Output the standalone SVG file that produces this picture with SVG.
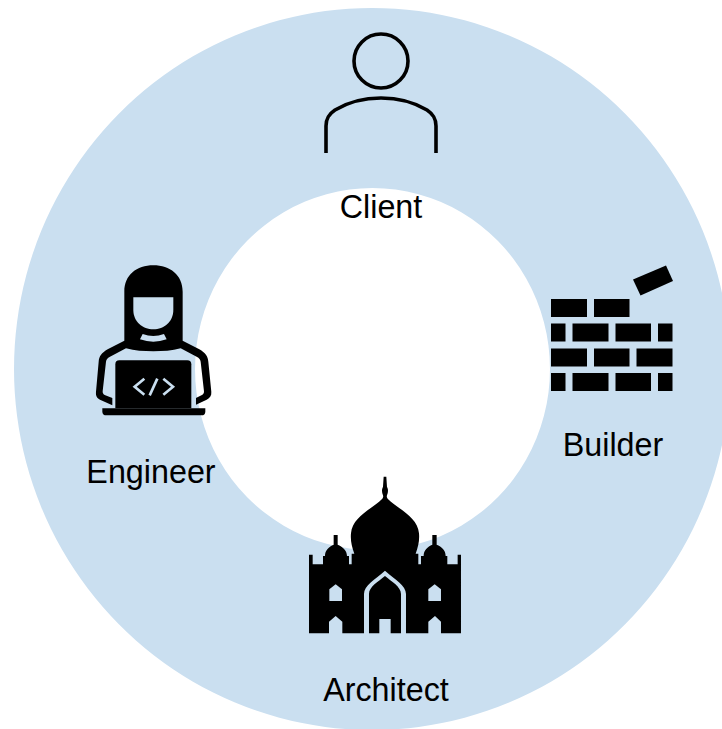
<svg xmlns="http://www.w3.org/2000/svg" width="722" height="729" viewBox="0 0 722 729">
<style>
.t{font-family:"Liberation Sans",Arial,sans-serif;font-size:32.3px;fill:#000}
.k{fill:#000}
.l{fill:#cadff0}
</style>
<rect width="722" height="729" fill="#fff"/>
<g id="ring"><path fill-rule="evenodd" fill="#cadff0" d="M372 8a358 361 0 1 0 0.01 0ZM372.500 188a177.500 181 0 1 1 -0.01 0Z"/></g>
<g id="connectors"/>
<g id="client">
<g fill="none" stroke="#000" stroke-width="3.6">
<circle cx="381" cy="61" r="27"/>
<path d="M326 153V126C326 118 329 114 335 110C350 101 364 98 381 98C398 98 412 101 427 110C433 114 436 118 436 126V153"/>
</g>
<text class="t" x="381" y="218" text-anchor="middle">Client</text>
</g>
<g id="engineer">
<g transform="translate(80 250) scale(.3333)">
<path class="k" d="M133 272V125C133 75 170 46 220 46C270 46 308 75 308 125V272L358 298C376 308 384 320 385 335L394 425C395 437 390 444 380 449L348 464V444L366 435C371 432 372 429 372 424L362 335C361 328 358 324 350 320L302 295C275 302 250 304 220 304C190 304 165 302 138 295L90 320C82 324 79 328 78 335L68 424C68 429 69 432 74 435L97 444V466L60 449C50 444 47 437 48 425L56 335C57 320 65 308 83 298Z"/>
<path class="l" d="M160 142H280V180C280 215 252 238 220 238C188 238 160 215 160 180Z"/>
<path class="l" d="M188 252Q220 264 252 252L260 268Q220 282 180 268Z"/>
<path class="k" d="M118 331H322Q334 331 334 343V475H106V343Q106 331 118 331Z"/>
<path class="k" d="M67 475H376V485Q376 496 364 496H80Q67 496 67 485Z"/>
<g fill="none" stroke="#cadff0" stroke-width="8">
<path d="M193 386L164 410L193 434"/>
<path d="M250 386L279 410L250 434"/>
<path d="M232 386L209 436"/>
</g>
</g>
<text class="t" x="151" y="483" text-anchor="middle">Engineer</text>
</g>
<g id="builder">
<g class="k">
<rect x="551" y="299" width="36" height="18"/>
<rect x="594" y="299" width="35.500" height="18"/>
<rect x="551" y="323.500" width="14.500" height="18"/>
<rect x="572.500" y="323.500" width="36" height="18"/>
<rect x="615.500" y="323.500" width="35.500" height="18"/>
<rect x="658" y="323.500" width="14.500" height="18"/>
<rect x="551" y="348.500" width="36" height="18"/>
<rect x="594" y="348.500" width="35.500" height="18"/>
<rect x="636.500" y="348.500" width="36" height="18"/>
<rect x="551" y="373" width="14.500" height="18"/>
<rect x="572.500" y="373" width="36" height="18"/>
<rect x="615.500" y="373" width="35.500" height="18"/>
<rect x="658" y="373" width="14.500" height="18"/>
<path d="M633 279.500L666 265.500L673 281L640.500 295.500Z"/>
</g>
<text class="t" x="613" y="456" text-anchor="middle">Builder</text>
</g>
<g id="architect">
<g transform="translate(295 470) scale(.3333)">
<path class="k" d="M42 490V254H53V283H84V258H90C90 240 102 230 116 224V195H128V224C142 230 156 240 156 258H162V283H170V251H178C170 230 166 210 168 190C172 140 230 118 262 86Q266 82 264 76Q258 62 264 50L266 20H274L276 50Q282 62 276 76Q274 82 278 86C310 118 368 140 372 190C374 210 370 230 362 251H370V283H378V258H386C386 240 398 230 412 224V195H425V224C440 230 452 240 452 258H457V283H488V254H498V490H438V455L420 438L400 455V490H333V372C333 345 300 330 270 302C240 330 207 345 207 372V490H142V455L122 438L102 455V490Z"/>
<path class="l" d="M103 393V358L122 343L141 358V393Z"/>
<path class="l" d="M400 393V358L419 343L438 358V393Z"/>
<path class="k" d="M222 490V372C222 350 250 335 270 318C290 335 318 350 318 372V490H287V447H253V490Z"/>
</g>
<text class="t" x="386" y="701" text-anchor="middle">Architect</text>
</g>
</svg>
